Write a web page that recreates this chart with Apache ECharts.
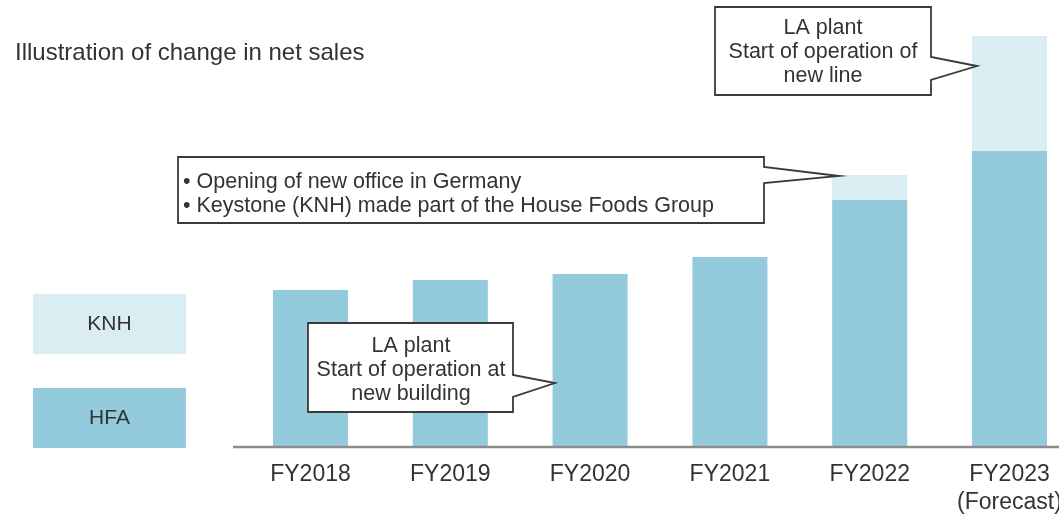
<!DOCTYPE html>
<html lang="en">

<head>
    <meta charset="UTF-8">
    <title>Illustration of change in net sales</title>
    <script src="https://cdn.jsdelivr.net/npm/echarts@6/dist/echarts.min.js"></script>
</head>

<body style="margin:0">
    <div id="main" style="width: 1059px;height:515px;"></div>
    <script type="text/javascript">
        // chart data (illustrative units)
        const categories = ['FY2018', 'FY2019', 'FY2020', 'FY2021', 'FY2022', 'FY2023\n(Forecast)'];
        const hfaValues = [156, 166, 172, 189, 246, 295];
        const knhValues = [0, 0, 0, 0, 25, 115];

        const font = 'Liberation Sans, Arial, sans-serif';
        const textColor = '#333333';
        const hfaColor = '#93cbdc';
        const knhColor = '#daedf3';

        let myChart = echarts.init(document.getElementById('main'));

        // a box with a pointer tail on its right side
        function callout(pts, text, tx, ty, align) {
            return [
                {
                    type: 'polygon',
                    shape: { points: pts },
                    style: { fill: '#fff', stroke: '#3a3a3a', lineWidth: 1.8 },
                    z: 10
                },
                {
                    type: 'text',
                    style: {
                        text: text, x: tx, y: ty, font: '21.5px ' + font, fill: textColor,
                        textAlign: align, textVerticalAlign: 'middle', lineHeight: 24
                    },
                    z: 11
                }
            ];
        }

        let graphics = [].concat(
            callout([[715, 7], [931, 7], [931, 57], [977, 66], [931, 80], [931, 95], [715, 95]],
                'LA plant\nStart of operation of\nnew line', 823, 52, 'center'),
            callout([[178, 157], [764, 157], [764, 167], [839, 176], [764, 183], [764, 223], [178, 223]],
                '• Opening of new office in Germany\n• Keystone (KNH) made part of the House Foods Group', 183, 194.5, 'left'),
            callout([[308, 323], [513, 323], [513, 375], [555, 383], [513, 397], [513, 412], [308, 412]],
                'LA plant\nStart of operation at\nnew building', 411, 370, 'center'),
            [
                // legend boxes
                { type: 'rect', shape: { x: 33, y: 294, width: 153, height: 60 }, style: { fill: knhColor } },
                { type: 'text', style: { text: 'KNH', x: 109.5, y: 324, font: '21px ' + font, fill: textColor, textAlign: 'center', textVerticalAlign: 'middle' } },
                { type: 'rect', shape: { x: 33, y: 388, width: 153, height: 60 }, style: { fill: hfaColor } },
                { type: 'text', style: { text: 'HFA', x: 109.5, y: 418, font: '21px ' + font, fill: textColor, textAlign: 'center', textVerticalAlign: 'middle' } },
                // base line
                { type: 'line', shape: { x1: 233, y1: 447, x2: 1059, y2: 447 }, style: { stroke: '#8c8c8c', lineWidth: 2.5 }, z: 5 }
            ]
        );

        let options = {
            animation: false,
            title: {
                text: 'Illustration of change in net sales',
                left: 10, top: 36,
                textStyle: { fontSize: 24, fontWeight: 'normal', color: textColor, fontFamily: font }
            },
            // boundaryGap false puts the first and last bar on the grid edges
            grid: { left: 310.5, right: 49.5, top: 26, bottom: 69, containLabel: false, outerBoundsMode: 'none' },
            xAxis: {
                type: 'category',
                data: categories,
                boundaryGap: false,
                axisLine: { show: false },
                axisTick: { show: false },
                axisLabel: { fontSize: 23, color: textColor, fontFamily: font, lineHeight: 28, margin: 15, interval: 0 }
            },
            yAxis: { type: 'value', min: 0, max: 420, show: false, splitLine: { show: false } },
            series: [
                { name: 'HFA', type: 'bar', stack: 'sales', data: hfaValues, barWidth: 75, itemStyle: { color: hfaColor } },
                { name: 'KNH', type: 'bar', stack: 'sales', data: knhValues, barWidth: 75, itemStyle: { color: knhColor } }
            ],
            graphic: graphics
        };

        myChart.setOption(options);
    </script>
</body>

</html>
